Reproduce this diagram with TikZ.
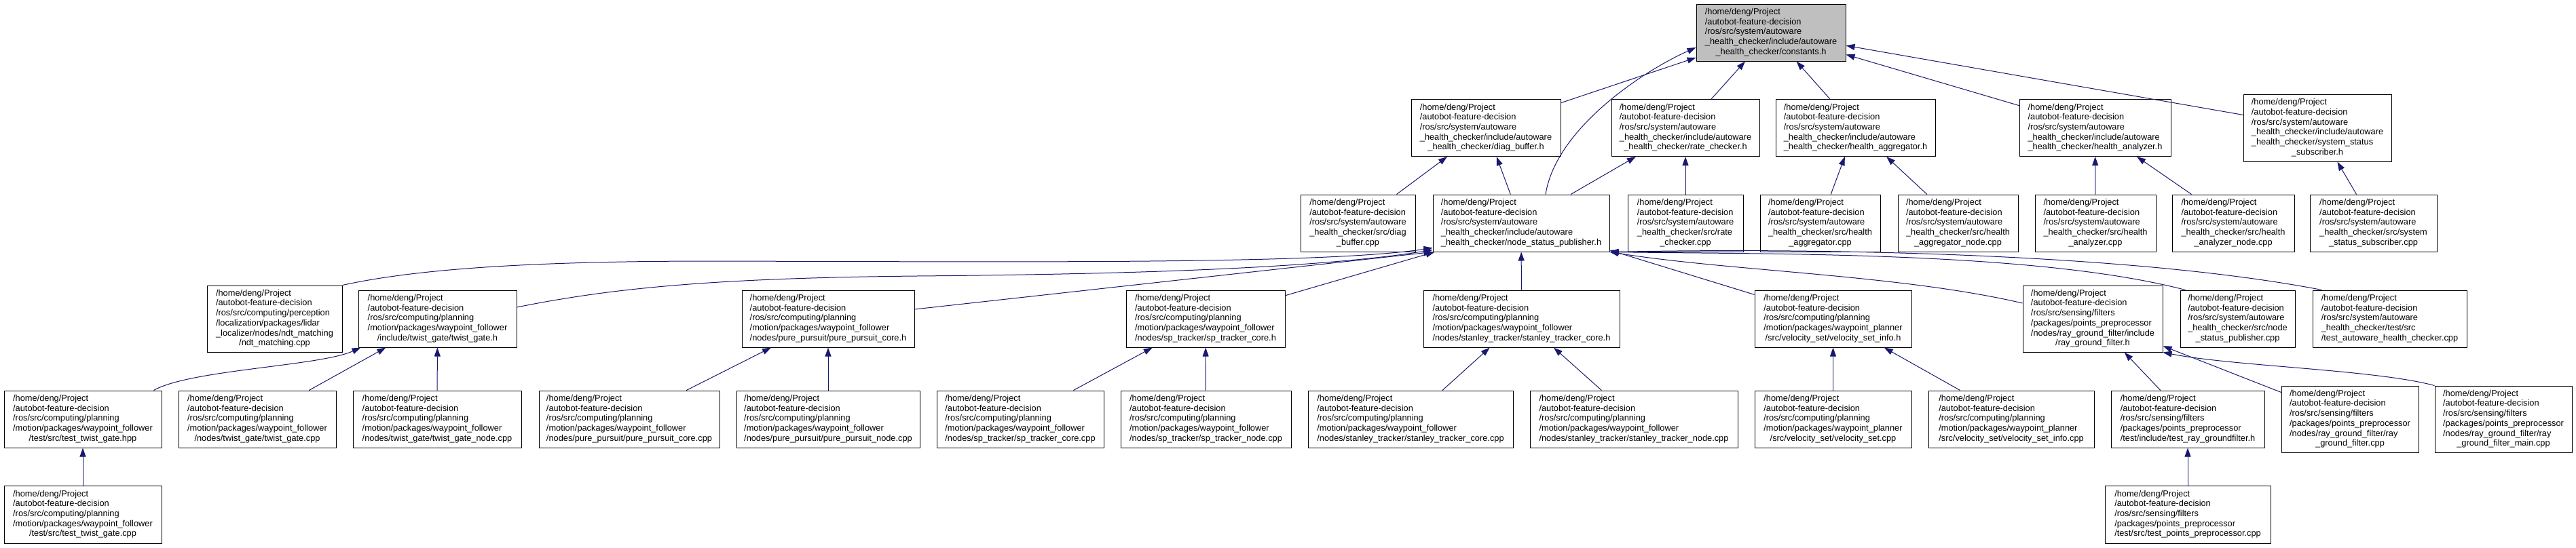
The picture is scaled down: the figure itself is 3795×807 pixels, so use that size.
\documentclass[tikz,border=0pt]{standalone}
\usepackage{fontspec}
\setmainfont{Liberation Sans}
\usetikzlibrary{arrows.meta}

\definecolor{midnight}{RGB}{25,25,112}

% label: left-aligned lines, last line centred
\newcommand{\flbl}[2]{\begin{tabular}{@{}l@{}}#1\\\multicolumn{1}{@{}c@{}}{#2}\end{tabular}}
\newcommand{\prj}{/home/deng/Project\\/autobot-feature-decision}
\newcommand{\hcs}{\prj\\/ros/src/system/autoware}
\newcommand{\wpf}{\prj\\/ros/src/computing/planning\\/motion/packages/waypoint\_follower}
\newcommand{\wpp}{\prj\\/ros/src/computing/planning\\/motion/packages/waypoint\_planner}
\newcommand{\ppr}{\prj\\/ros/src/sensing/filters\\/packages/points\_preprocessor}

\begin{document}
\begin{tikzpicture}[
  x=1pt, y=-1pt,
  every node/.style={font=\fontsize{12.8}{14.7}\selectfont},
  file/.style={rectangle,draw=black,fill=white,line width=1pt,inner sep=0pt,minimum height=84pt},
  tall/.style={minimum height=98pt},
  focus/.style={fill=gray!50},
  wd/.style={minimum width=#1pt},
  edge/.style={draw=midnight,line width=1pt,-{Triangle[length=13pt,width=9pt]}}
]
\useasboundingbox (0,0) rectangle (3795,807);

% ------------------------------------------------------------
% The header itself
% ------------------------------------------------------------
\node[file,focus,wd=220] (consth) at (2609,48)
  {\flbl{\hcs\\\_health\_checker/include/autoware}{\_health\_checker/constants.h}};

% ------------------------------------------------------------
% Headers of autoware_health_checker
% ------------------------------------------------------------
\node[file,wd=220] (diagh) at (2189,188.5)
  {\flbl{\hcs\\\_health\_checker/include/autoware}{\_health\_checker/diag\_buffer.h}};
\node[file,wd=218] (rateh) at (2483,188.5)
  {\flbl{\hcs\\\_health\_checker/include/autoware}{\_health\_checker/rate\_checker.h}};
\node[file,wd=235] (aggh) at (2733.5,188.5)
  {\flbl{\hcs\\\_health\_checker/include/autoware}{\_health\_checker/health\_aggregator.h}};
\node[file,wd=223] (anah) at (3086.5,188.5)
  {\flbl{\hcs\\\_health\_checker/include/autoware}{\_health\_checker/health\_analyzer.h}};
\node[file,tall,wd=218,minimum height=99pt] (subh) at (3414,188.5)
  {\flbl{\hcs\\\_health\_checker/include/autoware\\\_health\_checker/system\_status}{\_subscriber.h}};

% ------------------------------------------------------------
% Third row
% ------------------------------------------------------------
\node[file,wd=169] (diagcpp) at (2000.5,329)
  {\flbl{\hcs\\\_health\_checker/src/diag}{\_buffer.cpp}};
\node[file,wd=260] (nsph) at (2241,329)
  {\flbl{\hcs\\\_health\_checker/include/autoware}{\_health\_checker/node\_status\_publisher.h}};
\node[file,wd=170] (ratecpp) at (2483,329)
  {\flbl{\hcs\\\_health\_checker/src/rate}{\_checker.cpp}};
\node[file,wd=177] (aggcpp) at (2681.5,329)
  {\flbl{\hcs\\\_health\_checker/src/health}{\_aggregator.cpp}};
\node[file,wd=177] (aggnode) at (2884.5,329)
  {\flbl{\hcs\\\_health\_checker/src/health}{\_aggregator\_node.cpp}};
\node[file,wd=178] (anacpp) at (3087,329)
  {\flbl{\hcs\\\_health\_checker/src/health}{\_analyzer.cpp}};
\node[file,wd=180] (ananode) at (3290,329)
  {\flbl{\hcs\\\_health\_checker/src/health}{\_analyzer\_node.cpp}};
\node[file,wd=187] (subcpp) at (3496.5,329)
  {\flbl{\hcs\\\_health\_checker/src/system}{\_status\_subscriber.cpp}};

% ------------------------------------------------------------
% Users of node_status_publisher.h
% ------------------------------------------------------------
\node[file,tall,wd=199] (ndt) at (404.5,470)
  {\flbl{\prj\\/ros/src/computing/perception\\/localization/packages/lidar\\\_localizer/nodes/ndt\_matching}{/ndt\_matching.cpp}};
\node[file,wd=233] (twisth) at (644.5,470)
  {\flbl{\wpf}{/include/twist\_gate/twist\_gate.h}};
\node[file,wd=254] (ppcoreh) at (1220,470)
  {\flbl{\wpf}{/nodes/pure\_pursuit/pure\_pursuit\_core.h}};
\node[file,wd=234] (spcoreh) at (1776,470)
  {\flbl{\wpf}{/nodes/sp\_tracker/sp\_tracker\_core.h}};
\node[file,wd=289] (stcoreh) at (2241.5,470)
  {\flbl{\wpf}{/nodes/stanley\_tracker/stanley\_tracker\_core.h}};
\node[file,wd=231] (vsinfoh) at (2700.5,470)
  {\flbl{\wpp}{/src/velocity\_set/velocity\_set\_info.h}};
\node[file,tall,wd=206] (rgfh) at (3083,470)
  {\flbl{\ppr\\/nodes/ray\_ground\_filter/include}{/ray\_ground\_filter.h}};
\node[file,wd=169] (nspcpp) at (3296.5,470)
  {\flbl{\hcs\\\_health\_checker/src/node}{\_status\_publisher.cpp}};
\node[file,wd=227] (testhc) at (3520.5,470)
  {\flbl{\hcs\\\_health\_checker/test/src}{/test\_autoware\_health\_checker.cpp}};

% ------------------------------------------------------------
% Fifth row
% ------------------------------------------------------------
\node[file,wd=232] (ttgh) at (122,618)
  {\flbl{\wpf}{/test/src/test\_twist\_gate.hpp}};
\node[file,wd=232] (tgcpp) at (379,618)
  {\flbl{\wpf}{/nodes/twist\_gate/twist\_gate.cpp}};
\node[file,wd=248] (tgnode) at (644,618)
  {\flbl{\wpf}{/nodes/twist\_gate/twist\_gate\_node.cpp}};
\node[file,wd=266] (ppcore) at (927,618)
  {\flbl{\wpf}{/nodes/pure\_pursuit/pure\_pursuit\_core.cpp}};
\node[file,wd=270] (ppnode) at (1220,618)
  {\flbl{\wpf}{/nodes/pure\_pursuit/pure\_pursuit\_node.cpp}};
\node[file,wd=246] (spcore) at (1503,618)
  {\flbl{\wpf}{/nodes/sp\_tracker/sp\_tracker\_core.cpp}};
\node[file,wd=251] (spnode) at (1776.5,618)
  {\flbl{\wpf}{/nodes/sp\_tracker/sp\_tracker\_node.cpp}};
\node[file,wd=302] (stcore) at (2078,618)
  {\flbl{\wpf}{/nodes/stanley\_tracker/stanley\_tracker\_core.cpp}};
\node[file,wd=306] (stnode) at (2407,618)
  {\flbl{\wpf}{/nodes/stanley\_tracker/stanley\_tracker\_node.cpp}};
\node[file,wd=231] (vscpp) at (2700.5,618)
  {\flbl{\wpp}{/src/velocity\_set/velocity\_set.cpp}};
\node[file,wd=244] (vsinfo) at (2963,618)
  {\flbl{\wpp}{/src/velocity\_set/velocity\_set\_info.cpp}};
\node[file,wd=226] (testrgf) at (3223,618)
  {\flbl{\ppr}{/test/include/test\_ray\_groundfilter.h}};
\node[file,tall,wd=202] (rgfcpp) at (3462,618)
  {\flbl{\ppr\\/nodes/ray\_ground\_filter/ray}{\_ground\_filter.cpp}};
\node[file,tall,wd=202] (rgfmain) at (3688,618)
  {\flbl{\ppr\\/nodes/ray\_ground\_filter/ray}{\_ground\_filter\_main.cpp}};

% ------------------------------------------------------------
% Tests at the bottom
% ------------------------------------------------------------
\node[file,wd=232,minimum height=85pt] (ttgcpp) at (122,758.5)
  {\flbl{\wpf}{/test/src/test\_twist\_gate.cpp}};
\node[file,wd=244,minimum height=85pt] (testpp) at (3223,758.5)
  {\flbl{\ppr}{/test/src/test\_points\_preprocessor.cpp}};

% ------------------------------------------------------------
% Includes of constants.h
% ------------------------------------------------------------
\draw[edge] (diagh) -- (consth);
\draw[edge] (rateh) -- (consth);
\draw[edge] (aggh) -- (consth);
\draw[edge] (anah) -- (consth);
\draw[edge] (subh) -- (consth);
\draw[edge] ([xshift=36pt]nsph.north) .. controls (2292,190) and (2420,105) .. ([yshift=-22pt]consth.west);

% second level
\draw[edge] (diagcpp) -- (diagh);
\draw[edge] (nsph) -- (diagh);
\draw[edge] (nsph) -- (rateh);
\draw[edge] (ratecpp) -- (rateh);
\draw[edge] (aggcpp) -- (aggh);
\draw[edge] (aggnode) -- (aggh);
\draw[edge] (anacpp) -- (anah);
\draw[edge] (ananode) -- (anah);
\draw[edge] (subcpp) -- (subh);

% ------------------------------------------------------------
% Includes of node_status_publisher.h
% ------------------------------------------------------------
\draw[edge] (ndt.north east) .. controls (620,395) and (800,385) .. (1050,385)
  .. controls (1500,386) and (1950,390) .. ([yshift=6pt]nsph.south west);
\draw[edge] ([yshift=17pt]twisth.east) .. controls (900,425) and (1050,410) .. (1350,407)
  .. controls (1700,404) and (1950,394) .. ([yshift=3pt]nsph.south west);
\draw[edge] (ppcoreh) -- (nsph.south west);
\draw[edge] (spcoreh) -- ([xshift=3pt]nsph.south west);
\draw[edge] (stcoreh) -- (nsph);
\draw[edge] (vsinfoh) -- (nsph);
\draw[edge] ([yshift=23pt]rgfh.west) .. controls (2800,405) and (2550,400) .. (nsph.south east);
\draw[edge] ([xshift=8pt]nspcpp.north west) .. controls (3000,370) and (2600,375) .. (nsph.south east);
\draw[edge] ([xshift=14pt]testhc.north west) .. controls (3150,375) and (2700,365) .. (nsph.south east);

% ------------------------------------------------------------
% Lower levels
% ------------------------------------------------------------
\draw[edge] ([xshift=-12pt]ttgh.north east) .. controls (280,545) and (470,540) .. ([xshift=4pt]twisth.south west);
\draw[edge] (tgcpp) -- (twisth);
\draw[edge] (tgnode) -- (twisth);
\draw[edge] (ppcore) -- (ppcoreh);
\draw[edge] (ppnode) -- (ppcoreh);
\draw[edge] (spcore) -- (spcoreh);
\draw[edge] (spnode) -- (spcoreh);
\draw[edge] (stcore) -- (stcoreh);
\draw[edge] (stnode) -- (stcoreh);
\draw[edge] (vscpp) -- (vsinfoh);
\draw[edge] (vsinfo) -- (vsinfoh);
\draw[edge] (testrgf) -- (rgfh);
\draw[edge] (rgfcpp) -- (rgfh);
\draw[edge] (rgfmain.north west) .. controls (3500,545) and (3290,540) .. (rgfh.south east);
\draw[edge] (ttgcpp) -- (ttgh);
\draw[edge] (testpp) -- (testrgf);

\end{tikzpicture}
\end{document}
